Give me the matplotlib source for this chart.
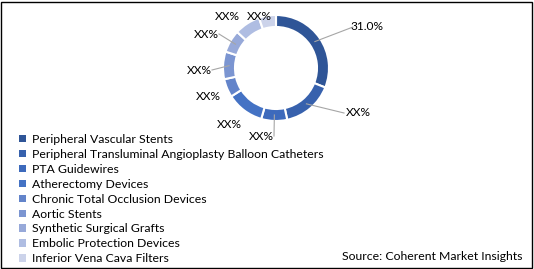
import numpy as np
import matplotlib
matplotlib.use('Agg')
import matplotlib.pyplot as plt
from matplotlib.patches import Patch, Rectangle

plt.rcParams['font.family'] = ['Lato', 'DejaVu Sans']

# data
segments = ['Peripheral Vascular Stents',
            'Peripheral Transluminal Angioplasty Balloon Catheters',
            'PTA Guidewires',
            'Atherectomy Devices',
            'Chronic Total Occlusion Devices',
            'Aortic Stents',
            'Synthetic Surgical Grafts',
            'Embolic Protection Devices',
            'Inferior Vena Cava Filters']
shares = [31.0, 15.6, 7.9, 11.5, 5.6, 8.4, 6.9, 7.9, 5.2]
labels = ['31.0%', 'XX%', 'XX%', 'XX%', 'XX%', 'XX%', 'XX%', 'XX%', 'XX%']
colors = ['#2F5597', '#3761AD', '#3D6ABC', '#4472C4', '#6384CA', '#7B95D1',
          '#97A9D9', '#AFBDE2', '#CCD3EA']

# layout (pixel coords, y from top)
W, H = 534, 269
cx, cy, R, ring = 276, 68, 53, 12
label_pos = [(367, 27), (358, 113), (261, 136), (229, 124), (208, 97),
             (199, 70), (206, 34), (227, 16), (259, 16)]
has_line = [True, True, True, False, False, True, True, False, False]

fig = plt.figure(figsize=(W / 100, H / 100), dpi=100)
ax = fig.add_axes([0, 0, 1, 1])

wedges, _ = ax.pie(shares, colors=colors, startangle=90, counterclock=False,
                   radius=R, center=(cx, H - cy), frame=True,
                   wedgeprops=dict(width=ring, edgecolor='white', linewidth=1.5))
ax.set_xlim(0, W)
ax.set_ylim(0, H)
ax.set_aspect('auto')
ax.axis('off')

# data labels with leader lines
for w, lab, (tx, ty), line in zip(wedges, labels, label_pos, has_line):
    ang = np.deg2rad((w.theta1 + w.theta2) / 2)
    r_mid = R - ring / 2
    px, py = cx + r_mid * np.cos(ang), H - cy + r_mid * np.sin(ang)
    if line:
        ex = tx - 14 if tx > cx else tx + 13
        ax.plot([px, ex], [py, H - ty], color='#A6A6A6', lw=0.8)
    ax.text(tx, H - ty, lab, ha='center', va='center', fontsize=8.6, color='#000000')

# legend
handles = [Patch(facecolor=c, edgecolor='none') for c in colors]
ax.legend(handles, segments, loc='upper left', bbox_to_anchor=(19 / W, 1 - 134 / H),
          frameon=False, fontsize=8.8, handlelength=0.55, handleheight=0.55,
          handletextpad=0.55, labelspacing=0.32, borderaxespad=0, borderpad=0)

fig.text(522 / W, 1 - 256 / H, 'Source: Coherent Market Insights', ha='right',
         va='center', fontsize=8.8)

# border
fig.patches.append(Rectangle((1 / W, 1 / H), 1 - 3 / W, 1 - 3 / H, transform=fig.transFigure,
                             fill=False, edgecolor='black', linewidth=1.0))

fig.savefig('out.png', dpi=100)
